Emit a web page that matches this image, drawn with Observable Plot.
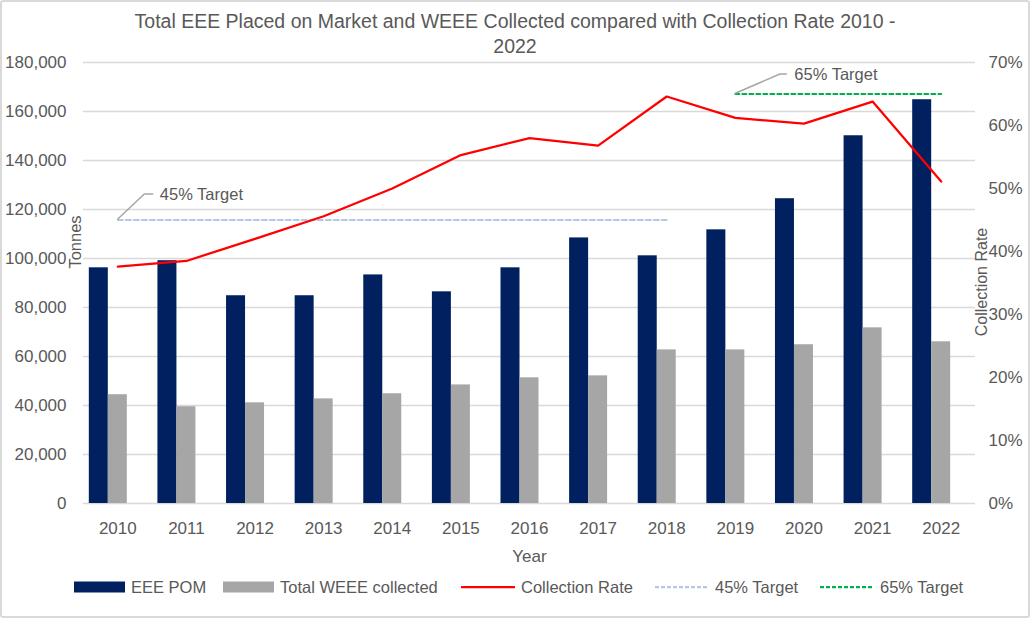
<!DOCTYPE html>
<html><head><meta charset="utf-8">
<script src="https://cdn.jsdelivr.net/npm/d3@7"></script>
<script src="https://cdn.jsdelivr.net/npm/@observablehq/plot@0.6"></script>
<style>
body{margin:0;background:#fff;font-family:"Liberation Sans",Arial,sans-serif;color:#595959;}
#wrap{position:relative;width:1030px;height:618px;overflow:hidden;background:#fff;}
#frame{position:absolute;left:0;top:0;width:1030px;height:618px;box-sizing:border-box;border:2px solid #d9d9d9;border-radius:3px;pointer-events:none;}
#title{position:absolute;left:0;top:9px;width:1030px;text-align:center;font-size:19.5px;line-height:25px;color:#595959;}
#chart{position:absolute;left:0;top:50px;}
#legend{position:absolute;left:0;top:576px;width:1030px;height:22px;font-size:16.5px;color:#595959;}
.item{position:absolute;top:0;height:22px;display:flex;align-items:center;white-space:nowrap;}
.item svg{margin-right:6px;}
</style></head><body>
<div id="wrap">
<div id="title">Total EEE Placed on Market and WEEE Collected compared with Collection Rate 2010 -<br>2022</div>
<div id="chart"></div>
<div id="legend"></div>
<div id="frame"></div>
</div>
<script>
const years = [2010, 2011, 2012, 2013, 2014, 2015, 2016, 2017, 2018, 2019, 2020, 2021, 2022];
const eeePom = [96200, 99100, 84800, 84800, 93300, 86400, 96200, 108400, 101100, 111700, 124400, 150100, 164800];
const weeeCollected = [44400, 39500, 41100, 42700, 44800, 48400, 51300, 52100, 62700, 62700, 64800, 71700, 66000];
const collectionRate = [37.6, 38.5, 42.0, 45.6, 50.0, 55.3, 58.0, 56.8, 64.6, 61.2, 60.3, 63.8, 51.1];
const target45Years = [2010, 2018];
const target45Value = 45;
const target65Years = [2019, 2022];
const target65Value = 65;
const tonnesTicks = [0, 20000, 40000, 60000, 80000, 100000, 120000, 140000, 160000, 180000];
const rateTicks = [0, 10, 20, 30, 40, 50, 60, 70];
const seriesNames = ["EEE POM", "Total WEEE collected", "Collection Rate", "45% Target", "65% Target"];

const navy = "#002060", grey = "#a6a6a6", red = "#ff0000", blue = "#b4c7e7", green = "#00b050";
const S = 180000 / 70; // percent -> tonnes-axis units
const data = years.map((year, i) => ({year, eee: eeePom[i], weee: weeeCollected[i], rate: collectionRate[i]}));
const t45 = target45Years.map(year => ({year, rate: target45Value}));
const t65 = target65Years.map(year => ({year, rate: target65Value}));

const W = 1030, H = 515, ML = 83, MR = 55, MT = 12, MB = 62;
const bw = (W - ML - MR) / years.length;
const barW = 19, gap = (bw - 3 * barW) / 2;

const plot = Plot.plot({
  width: W, height: H, marginTop: MT, marginBottom: MB, marginLeft: ML, marginRight: MR,
  style: {fontFamily: '"Liberation Sans", Arial, sans-serif', fontSize: "17px", color: "#595959", background: "transparent", overflow: "visible"},
  x: {type: "band", domain: years, padding: 0, round: false, label: null},
  y: {domain: [0, 180000], label: null},
  marks: [
    Plot.gridY(tonnesTicks, {stroke: "#d9d9d9", strokeOpacity: 1, strokeWidth: 1.4}),
    Plot.barY(data, {x: "year", y: "eee", fill: navy, insetLeft: gap, insetRight: bw - gap - barW}),
    Plot.barY(data, {x: "year", y: "weee", fill: grey, insetLeft: gap + barW, insetRight: bw - gap - 2 * barW}),
    Plot.line(t45, {x: "year", y: d => d.rate * S, stroke: blue, strokeWidth: 2, strokeDasharray: "5,3"}),
    Plot.line(t65, {x: "year", y: d => d.rate * S, stroke: green, strokeWidth: 2, strokeDasharray: "4,3"}),
    Plot.line(data, {x: "year", y: d => d.rate * S, stroke: red, strokeWidth: 2.25}),
    Plot.text([t45[0]], {x: "year", y: d => d.rate * S, text: () => "45% Target", dx: 42, dy: -25, textAnchor: "start", fill: "#595959", fontSize: 16.5}),
    Plot.text([t65[0]], {x: "year", y: d => d.rate * S, text: () => "65% Target", dx: 59, dy: -19, textAnchor: "start", fill: "#595959", fontSize: 16.5}),
    Plot.axisY(tonnesTicks, {anchor: "left", tickSize: 0, tickPadding: 17, tickFormat: d3.format(","), label: null}),
    Plot.axisY(rateTicks.map(r => r * S), {anchor: "right", tickSize: 0, tickPadding: 13, tickFormat: v => Math.round(v / S) + "%", label: null}),
    Plot.axisX({tickSize: 0, tickPadding: 18, tickFormat: d => String(d), label: null}),
    Plot.text(["Tonnes"], {text: d => d, frameAnchor: "left", textAnchor: "middle", lineAnchor: "middle", dx: -8, dy: -41, rotate: -90, fontSize: 16.5}),
    Plot.text(["Collection Rate"], {text: d => d, frameAnchor: "right", textAnchor: "middle", lineAnchor: "middle", dx: 6, dy: -1, rotate: -90, fontSize: 16}),
    Plot.text(["Year"], {text: d => d, frameAnchor: "bottom", textAnchor: "middle", lineAnchor: "middle", dy: 53})
  ]
});

// leader lines for the target callouts, positioned with the plot's own scales
const xs = plot.scale("x"), ys = plot.scale("y");
const cx = v => xs.apply(v) + xs.bandwidth / 2;
const svg = d3.select(plot);
[[t45[0], 27, -25.5, 9], [t65[0], 45, -19.5, 7]].forEach(([d, ddx, ddy, h]) => {
  const x0 = cx(d.year), y0 = ys.apply(d.rate * S);
  svg.append("path")
    .attr("d", `M${x0},${y0}L${x0 + ddx},${y0 + ddy}H${x0 + ddx + h}`)
    .attr("fill", "none").attr("stroke", "#a6a6a6").attr("stroke-width", 1.5);
});
document.getElementById("chart").appendChild(plot);

// legend
const legendSpecs = [
  {kind: "box", color: navy, left: 74},
  {kind: "box", color: grey, left: 223},
  {kind: "line", color: red, dash: null, left: 461},
  {kind: "line", color: blue, dash: "4,2", left: 655},
  {kind: "line", color: green, dash: "4,2", left: 820}
];
const legend = document.getElementById("legend");
seriesNames.forEach((name, i) => {
  const s = legendSpecs[i];
  const item = document.createElement("div");
  item.className = "item";
  item.style.left = s.left + "px";
  const sw = s.kind === "box"
    ? `<svg width="51" height="12"><rect x="0" y="0.5" width="51" height="11" fill="${s.color}"/></svg>`
    : `<svg width="54" height="12"><line x1="0" x2="54" y1="6" y2="6" stroke="${s.color}" stroke-width="2.25" ${s.dash ? `stroke-dasharray="${s.dash}"` : ""}/></svg>`;
  item.innerHTML = sw + `<span>${name}</span>`;
  legend.appendChild(item);
});
</script>
</body></html>
